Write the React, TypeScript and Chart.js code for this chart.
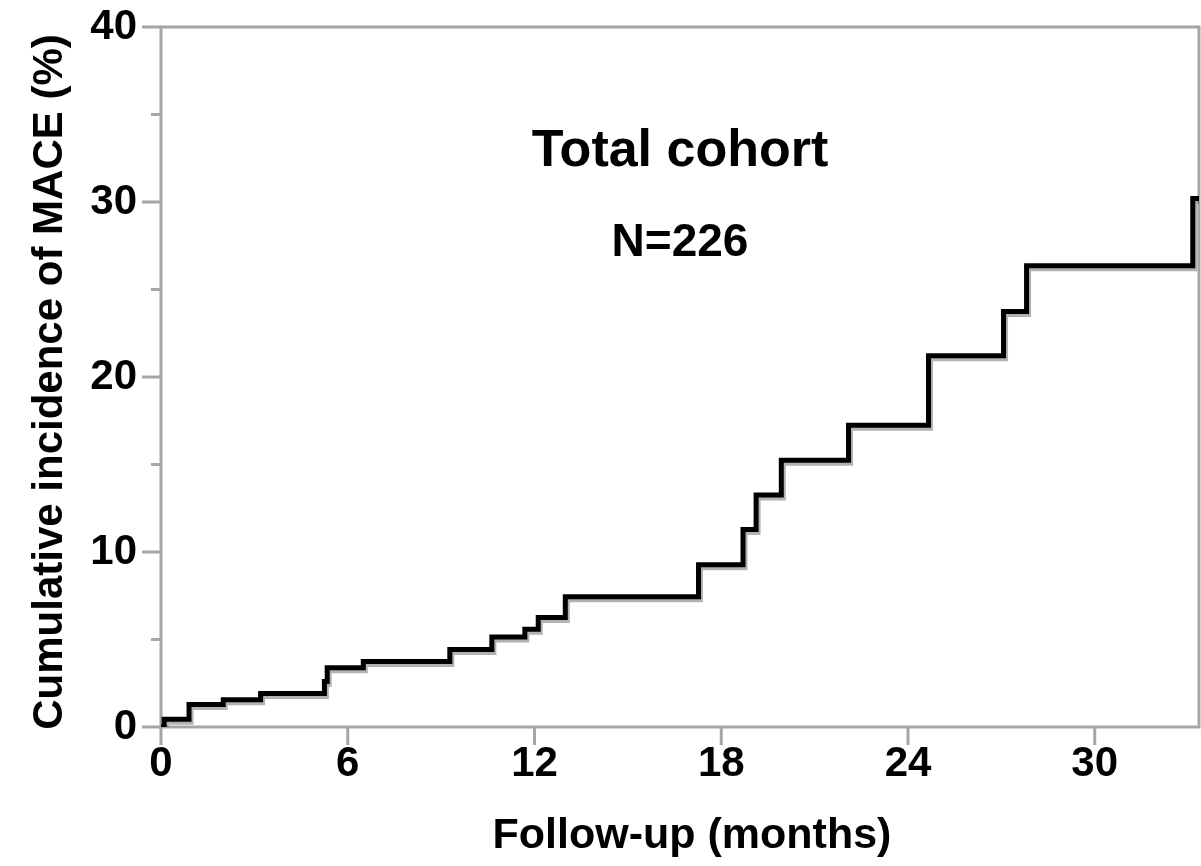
import React, { useEffect, useRef } from "react";
import { Chart, registerables } from "chart.js";

Chart.register(...registerables);

// ---- data ----
const months = [0, 0.1, 0.9, 2.0, 3.2, 5.25, 5.34, 6.5, 9.28, 10.63, 11.69, 12.12, 12.99, 17.27, 18.7, 19.12, 19.93, 22.09, 24.66, 27.07, 27.81, 33.15, 33.35];
const incidence = [0, 0.44, 1.28, 1.56, 1.92, 2.6, 3.39, 3.74, 4.43, 5.14, 5.59, 6.26, 7.45, 9.27, 11.28, 13.26, 15.25, 17.24, 21.22, 23.74, 26.36, 30.2, 30.2];
const xTicks = [0, 6, 12, 18, 24, 30];
const yTicks = [0, 10, 20, 30, 40];
const yMinorTicks = [5, 15, 25, 35];
const xMax = 33.35;
const yMax = 40;
const chartTitle = "Total cohort";
const sampleSize = "N=226";
const xTitle = "Follow-up (months)";
const yTitle = "Cumulative incidence of MACE (%)";

const FONT = "'Liberation Sans', Arial, Helvetica, sans-serif";
const AXIS_GRAY = "#a6a6a6";

const framePlugin = {
  id: "frameAndTicks",
  beforeDatasetsDraw(chart: any) {
    const { ctx, chartArea } = chart;
    const { left, right, top, bottom } = chartArea;
    const xs = chart.scales.x;
    const ys = chart.scales.y;
    ctx.save();
    ctx.strokeStyle = AXIS_GRAY;
    ctx.lineWidth = 3;
    ctx.lineCap = "butt";
    ctx.strokeRect(left, top, right - left, bottom - top);
    ctx.beginPath();
    yTicks.forEach((v) => {
      const y = ys.getPixelForValue(v);
      ctx.moveTo(left - 19, y);
      ctx.lineTo(left, y);
    });
    yMinorTicks.forEach((v) => {
      const y = ys.getPixelForValue(v);
      ctx.moveTo(left - 10, y);
      ctx.lineTo(left, y);
    });
    xTicks.forEach((v) => {
      const x = xs.getPixelForValue(v);
      ctx.moveTo(x, bottom);
      ctx.lineTo(x, bottom + 18);
    });
    ctx.stroke();
    ctx.restore();
    // shadow for the step line
    ctx.save();
    ctx.shadowColor = "rgba(0,0,0,0.3)";
    ctx.shadowOffsetX = 2;
    ctx.shadowOffsetY = 3;
    ctx.shadowBlur = 0;
  },
  afterDatasetsDraw(chart: any) {
    chart.ctx.restore();
  },
  afterDraw(chart: any) {
    const { ctx, chartArea } = chart;
    const cx = (chartArea.left + chartArea.right) / 2;
    ctx.save();
    ctx.fillStyle = "#000";
    ctx.textAlign = "center";
    ctx.textBaseline = "alphabetic";
    ctx.font = `bold 52px ${FONT}`;
    ctx.fillText(chartTitle, cx, 166);
    ctx.font = `bold 46px ${FONT}`;
    ctx.fillText(sampleSize, cx, 256);
    ctx.font = `bold 43px ${FONT}`;
    ctx.fillText(xTitle, 692, 848);
    ctx.translate(62, 382);
    ctx.rotate(-Math.PI / 2);
    ctx.font = `bold 42px ${FONT}`;
    ctx.fillText(yTitle, 0, 0);
    ctx.restore();
  },
};

export default function App() {
  const canvasRef = useRef<HTMLCanvasElement | null>(null);

  useEffect(() => {
    document.body.style.margin = "0";
    const canvas = canvasRef.current;
    if (!canvas) return;
    const points = months.map((m, i) => ({ x: m, y: incidence[i] }));
    const chart = new Chart(canvas, {
      type: "scatter",
      data: {
        datasets: [
          {
            data: points,
            showLine: true,
            stepped: "before",
            borderColor: "#000",
            borderWidth: 5,
            pointRadius: 0,
            pointHoverRadius: 0,
            fill: false,
            borderJoinStyle: "miter",
            borderCapStyle: "butt",
          } as any,
        ],
      },
      options: {
        responsive: false,
        animation: false,
        devicePixelRatio: 1,
        layout: { padding: { top: 24, right: 2, left: 0, bottom: 0 } },
        plugins: { legend: { display: false }, tooltip: { enabled: false } },
        scales: {
          x: {
            type: "linear",
            min: 0,
            max: xMax,
            afterBuildTicks: (s: any) => {
              s.ticks = xTicks.map((v) => ({ value: v }));
            },
            afterFit: (s: any) => {
              s.height = 139;
            },
            grid: { display: true, drawOnChartArea: false, color: "transparent", tickLength: 10 },
            border: { display: false },
            ticks: {
              color: "#000",
              font: { family: FONT, size: 42, weight: "bold", lineHeight: 1.2 },
              padding: 2,
              maxRotation: 0,
              autoSkip: false,
            },
          },
          y: {
            type: "linear",
            min: 0,
            max: yMax,
            afterBuildTicks: (s: any) => {
              s.ticks = yTicks.map((v) => ({ value: v }));
            },
            afterFit: (s: any) => {
              s.width = 161;
            },
            grid: { display: true, drawOnChartArea: false, color: "transparent", tickLength: 18 },
            border: { display: false },
            ticks: {
              color: "#000",
              font: { family: FONT, size: 42, weight: "bold", lineHeight: 1.0 },
              padding: 6,
              autoSkip: false,
            },
          },
        },
      },
      plugins: [framePlugin],
    });
    return () => chart.destroy();
  }, []);

  return (
    <div style={{ width: 1201, height: 866 }}>
      <canvas ref={canvasRef} width={1201} height={866} style={{ width: 1201, height: 866, display: "block" }} />
    </div>
  );
}
